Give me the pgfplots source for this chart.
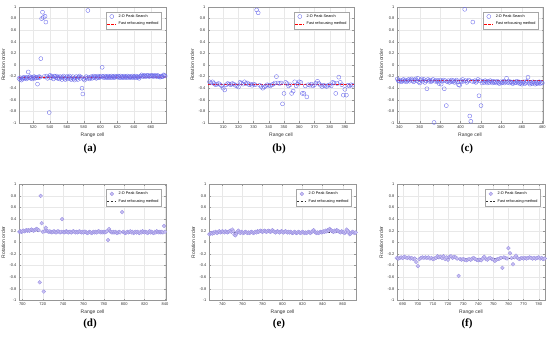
\documentclass[border=0pt]{standalone}
\usepackage{pgfplots}
\pgfplotsset{compat=1.18}
\usepackage{fontspec}
\setmainfont{Liberation Sans}
\newfontfamily\serifb{Liberation Serif}
\definecolor{mk}{RGB}{105,105,235}
\definecolor{mkf}{RGB}{200,192,242}
\definecolor{mkd}{RGB}{150,140,225}
\definecolor{axc}{RGB}{150,150,150}
\definecolor{tkc}{RGB}{50,50,50}
\pgfplotsset{
  panel/.style={
    scale only axis, height=116pt, anchor=south west,
    ymin=-1, ymax=1,
    ytick={-1,-0.8,-0.6,-0.4,-0.2,0,0.2,0.4,0.6,0.8,1},
    yticklabels={-1,-0.8,-0.6,-0.4,-0.2,0,0.2,0.4,0.6,0.8,1},
    /pgf/number format/assume math mode=true,
    tick label style={font=\fontsize{4}{4.5}\selectfont, text=tkc},
    label style={font=\fontsize{5}{6}\selectfont, text=tkc},
    xlabel={Range cell}, ylabel={Rotation order},
    xlabel style={yshift=2.5pt},
    ylabel style={yshift=-2.5pt},
    xticklabel style={yshift=1pt},
    yticklabel style={xshift=1pt},
    axis line style={axc, line width=0.4pt},
    tick align=inside, major tick length=1.5pt,
    tick style={axc, line width=0.3pt},
    grid=major, major grid style={gray!18, line width=0.3pt},
    clip=false,
    legend cell align=left,
    legend style={at={(0.97,0.96)}, anchor=north east, draw=gray!70, fill=white,
      font=\fontsize{3.8}{4.2}\selectfont, inner xsep=1pt, inner ysep=0.6pt,
      row sep=-0.5pt, line width=0.3pt},
    legend image code/.code={\draw[#1] (0pt,0pt) -- (9pt,0pt);},
  },
  pts1/.style={only marks, mark=o, mark size=2pt, mark options={draw=mk, line width=0.35pt},
    legend image code/.code={\draw[mk, line width=0.35pt] (4.5pt,0pt) circle (2pt);}},
  pts2/.style={only marks, mark=*, mark size=1.9pt, mark options={draw=mkd, fill=mkf, line width=0.3pt},
    legend image code/.code={\draw[mkd, fill=mkf, line width=0.3pt] (4.5pt,0pt) circle (1.9pt);}},
  ln1/.style={red, line width=0.9pt, dash pattern=on 2.5pt off 1.5pt, no marks},
  ln2/.style={black!80, line width=0.8pt, dash pattern=on 2pt off 1.6pt, no marks},
}
\begin{document}
\begin{tikzpicture}
\path[use as bounding box] (0,0) rectangle (550pt,337pt);
% (a)
\begin{axis}[panel, at={(19pt,214pt)}, width=147pt, xmin=503, xmax=678, xtick={520,540,...,660}]
\addplot[pts1] coordinates {
(503,-0.23) (504,-0.25) (505,-0.22) (506,-0.26) (507,-0.24) (508,-0.22) (509,-0.21) (510,-0.23) (511,-0.22) (512,-0.24)
(513,-0.21) (514,-0.12) (515,-0.22) (516,-0.20) (517,-0.23) (518,-0.21) (519,-0.24) (520,-0.22) (521,-0.20) (522,-0.23)
(523,-0.21) (524,-0.22) (525,-0.33) (526,-0.22) (527,-0.20) (528,-0.21) (529,0.11) (530,0.80) (531,0.91) (532,0.82)
(533,-0.20) (534,0.84) (535,0.74) (536,-0.19) (537,-0.23) (538,-0.21) (539,-0.82) (540,-0.18) (541,-0.22) (542,-0.19)
(543,-0.21) (544,-0.24) (545,-0.19) (546,-0.20) (547,-0.22) (548,-0.19) (549,-0.23) (550,-0.21) (551,-0.24) (552,-0.20)
(553,-0.22) (554,-0.25) (555,-0.21) (556,-0.19) (557,-0.23) (558,-0.25) (559,-0.22) (560,-0.20) (561,-0.24) (562,-0.21)
(563,-0.19) (564,-0.23) (565,-0.25) (566,-0.22) (567,-0.20) (568,-0.24) (569,-0.26) (570,-0.22) (571,-0.20) (572,-0.23)
(573,-0.25) (574,-0.21) (575,-0.19) (576,-0.23) (577,-0.21) (578,-0.40) (579,-0.50) (580,-0.24) (581,-0.26) (582,-0.22)
(583,-0.20) (584,-0.23) (585,0.94) (586,-0.21) (587,-0.24) (588,-0.22) (589,-0.20) (590,-0.23) (591,-0.21) (592,-0.19)
(593,-0.22) (594,-0.20) (595,-0.23) (596,-0.21) (597,-0.19) (598,-0.22) (599,-0.20) (600,-0.21) (601,-0.19) (602,-0.04)
(603,-0.20) (604,-0.22) (605,-0.19) (606,-0.21) (607,-0.20) (608,-0.22) (609,-0.19) (610,-0.21) (611,-0.20) (612,-0.22)
(613,-0.19) (614,-0.21) (615,-0.20) (616,-0.22) (617,-0.19) (618,-0.21) (619,-0.20) (620,-0.21) (621,-0.19) (622,-0.20)
(623,-0.22) (624,-0.19) (625,-0.21) (626,-0.20) (627,-0.22) (628,-0.19) (629,-0.21) (630,-0.20) (631,-0.22) (632,-0.19)
(633,-0.21) (634,-0.20) (635,-0.22) (636,-0.20) (637,-0.21) (638,-0.19) (639,-0.22) (640,-0.20) (641,-0.21) (642,-0.19)
(643,-0.22) (644,-0.20) (645,-0.21) (646,-0.23) (647,-0.20) (648,-0.19) (649,-0.17) (650,-0.19) (651,-0.20) (652,-0.18)
(653,-0.19) (654,-0.20) (655,-0.18) (656,-0.19) (657,-0.18) (658,-0.20) (659,-0.19) (660,-0.18) (661,-0.19) (662,-0.18)
(663,-0.20) (664,-0.19) (665,-0.18) (666,-0.19) (667,-0.20) (668,-0.18) (669,-0.19) (670,-0.20) (671,-0.21) (672,-0.19)
(673,-0.20) (674,-0.20) (675,-0.17) (676,-0.18) (677,-0.19)};
\addlegendentry{2-D Peak Search}
\addplot[ln1] coordinates {(503,-0.215) (678,-0.21)};
\addlegendentry{Fast refocusing method}
\end{axis}
% (b)
\begin{axis}[panel, at={(208pt,214pt)}, width=146pt, xmin=300, xmax=396, xtick={310,320,...,390}]
\addplot[pts1] coordinates {
(301,-0.29) (302,-0.31) (303,-0.29) (304,-0.32) (305,-0.34) (306,-0.33) (307,-0.32) (308,-0.34) (309,-0.36) (310,-0.40)
(311,-0.43) (312,-0.34) (313,-0.32) (314,-0.33) (315,-0.34) (316,-0.32) (317,-0.33) (318,-0.35) (319,-0.36) (320,-0.38)
(321,-0.30) (322,-0.31) (323,-0.33) (324,-0.29) (325,-0.32) (326,-0.31) (327,-0.34) (328,-0.33) (329,-0.35) (330,-0.33)
(331,-0.34) (332,0.95) (333,0.90) (334,-0.35) (335,-0.37) (336,-0.40) (337,-0.38) (338,-0.36) (339,-0.34) (340,-0.35)
(341,-0.36) (342,-0.34) (343,-0.33) (344,-0.31) (345,-0.20) (346,-0.31) (347,-0.32) (348,-0.31) (349,-0.67) (350,-0.49)
(351,-0.30) (352,-0.32) (353,-0.36) (354,-0.34) (355,-0.49) (356,-0.45) (357,-0.29) (358,-0.36) (359,-0.33) (360,-0.29)
(361,-0.30) (362,-0.49) (363,-0.49) (364,-0.36) (365,-0.55) (366,-0.34) (367,-0.35) (368,-0.33) (369,-0.36) (370,-0.34)
(371,-0.31) (372,-0.28) (373,-0.32) (374,-0.35) (375,-0.37) (376,-0.35) (377,-0.36) (378,-0.37) (379,-0.35) (380,-0.34)
(381,-0.36) (382,-0.30) (383,-0.31) (384,-0.49) (385,-0.32) (386,-0.21) (387,-0.30) (388,-0.34) (389,-0.52) (390,-0.42)
(391,-0.52) (392,-0.35) (393,-0.36) (394,-0.34) (395,-0.35)};
\addlegendentry{2-D Peak Search}
\addplot[ln1] coordinates {(300,-0.33) (396,-0.33)};
\addlegendentry{Fast refocusing method}
\end{axis}
% (c)
\begin{axis}[panel, at={(397pt,214pt)}, width=146pt, xmin=337.7, xmax=480.7, xtick={340,360,...,480}]
\addplot[pts1] coordinates {
(338,-0.24) (339,-0.27) (340,-0.28) (341,-0.26) (342,-0.29) (343,-0.27) (344,-0.25) (345,-0.28) (346,-0.26) (347,-0.29)
(348,-0.27) (349,-0.25) (350,-0.28) (351,-0.26) (352,-0.24) (353,-0.27) (354,-0.29) (355,-0.26) (356,-0.24) (357,-0.27)
(358,-0.23) (359,-0.29) (360,-0.31) (361,-0.26) (362,-0.24) (363,-0.28) (364,-0.25) (365,-0.30) (366,-0.27) (367,-0.41)
(368,-0.25) (369,-0.28) (370,-0.26) (371,-0.29) (372,-0.27) (373,-0.25) (374,-0.99) (375,-0.28) (376,-0.26) (377,-0.29)
(378,-0.27) (379,-0.32) (380,-0.26) (381,-0.33) (382,-0.28) (383,-0.26) (384,-0.41) (385,-0.27) (386,-0.70) (387,-0.29)
(388,-0.27) (389,-0.30) (390,-0.28) (391,-0.26) (392,-0.29) (393,-0.27) (394,-0.30) (395,-0.28) (396,-0.26) (397,-0.29)
(398,-0.34) (399,-0.35) (400,-0.27) (401,-0.29) (402,-0.25) (403,-0.28) (404,0.96) (405,-0.27) (406,-0.30) (407,-0.28)
(408,-0.26) (409,-0.88) (410,-0.97) (411,-0.28) (412,0.74) (413,-0.29) (414,-0.27) (415,-0.30) (416,-0.28) (417,-0.25)
(418,-0.53) (419,-0.27) (420,-0.70) (421,-0.31) (422,-0.28) (423,-0.30) (424,-0.27) (425,-0.29) (426,-0.31) (427,-0.28)
(428,-0.30) (429,-0.27) (430,-0.29) (431,-0.31) (432,-0.28) (433,-0.30) (434,-0.29) (435,-0.31) (436,-0.28) (437,-0.30)
(438,-0.32) (439,-0.29) (440,-0.31) (441,-0.30) (442,-0.28) (443,-0.31) (444,-0.29) (445,-0.23) (446,-0.30) (447,-0.28)
(448,-0.31) (449,-0.29) (450,-0.30) (451,-0.32) (452,-0.29) (453,-0.31) (454,-0.30) (455,-0.28) (456,-0.31) (457,-0.29)
(458,-0.32) (459,-0.30) (460,-0.33) (461,-0.31) (462,-0.29) (463,-0.32) (464,-0.30) (465,-0.28) (466,-0.21) (467,-0.31)
(468,-0.33) (469,-0.30) (470,-0.32) (471,-0.29) (472,-0.31) (473,-0.33) (474,-0.30) (475,-0.32) (476,-0.31) (477,-0.29)
(478,-0.32) (479,-0.30) (480,-0.31)};
\addlegendentry{2-D Peak Search}
\addplot[ln1] coordinates {(337.7,-0.27) (480.7,-0.27)};
\addlegendentry{Fast refocusing method}
\end{axis}
% (d)
\begin{axis}[panel, at={(19pt,36.7pt)}, width=147pt, xmin=696.7, xmax=841, xtick={700,720,...,840}]
\addplot[pts2] coordinates {
(697,0.18) (698,0.19) (699,0.18) (700,0.19) (701,0.20) (702,0.19) (703,0.20) (704,0.21) (705,0.20) (706,0.21)
(707,0.20) (708,0.21) (709,0.22) (710,0.21) (711,0.20) (712,0.21) (713,0.22) (714,0.23) (715,0.22) (716,0.21)
(717,-0.69) (718,0.80) (719,0.33) (720,0.18) (721,-0.85) (722,0.19) (723,0.25) (724,0.20) (725,0.19) (726,0.18)
(727,0.19) (728,0.18) (729,0.17) (730,0.18) (731,0.19) (732,0.18) (733,0.17) (734,0.18) (735,0.19) (736,0.18)
(737,0.17) (738,0.18) (739,0.40) (740,0.18) (741,0.17) (742,0.18) (743,0.19) (744,0.18) (745,0.17) (746,0.18)
(747,0.18) (748,0.17) (749,0.18) (750,0.19) (751,0.18) (752,0.17) (753,0.18) (754,0.17) (755,0.18) (756,0.19)
(757,0.18) (758,0.17) (759,0.18) (760,0.17) (761,0.18) (762,0.18) (763,0.17) (764,0.16) (765,0.17) (766,0.18)
(767,0.17) (768,0.16) (769,0.17) (770,0.18) (771,0.17) (772,0.18) (773,0.17) (774,0.18) (775,0.19) (776,0.18)
(777,0.17) (778,0.18) (779,0.17) (780,0.18) (781,0.17) (782,0.18) (783,0.19) (784,0.04) (785,0.23) (786,0.19)
(787,0.18) (788,0.17) (789,0.18) (790,0.17) (791,0.18) (792,0.17) (793,0.16) (794,0.17) (795,0.18) (796,0.17)
(797,0.72) (798,0.52) (799,0.18) (800,0.17) (801,0.16) (802,0.17) (803,0.18) (804,0.17) (805,0.18) (806,0.19)
(807,0.17) (808,0.18) (809,0.16) (810,0.17) (811,0.18) (812,0.17) (813,0.18) (814,0.17) (815,0.16) (816,0.18)
(817,0.17) (818,0.19) (819,0.18) (820,0.17) (821,0.18) (822,0.17) (823,0.16) (824,0.18) (825,0.19) (826,0.17)
(827,0.18) (828,0.17) (829,0.16) (830,0.18) (831,0.17) (832,0.19) (833,0.18) (834,0.17) (835,0.18) (836,0.17)
(837,0.18) (838,0.17) (839,0.28) (840,0.18)};
\addlegendentry{2-D Peak Search}
\addplot[ln2] coordinates {(696.7,0.18) (841,0.18)};
\addlegendentry{Fast refocusing method}
\end{axis}
% (e)
\begin{axis}[panel, at={(209pt,36.7pt)}, width=147pt, xmin=726.7, xmax=873.3, xtick={740,760,...,860}]
\addplot[pts2] coordinates {
(727,0.14) (728,0.15) (729,0.16) (730,0.15) (731,0.17) (732,0.16) (733,0.18) (734,0.17) (735,0.16) (736,0.18)
(737,0.19) (738,0.17) (739,0.18) (740,0.19) (741,0.18) (742,0.17) (743,0.19) (744,0.18) (745,0.17) (746,0.18)
(747,0.19) (748,0.20) (749,0.18) (750,0.22) (751,0.19) (752,0.13) (753,0.12) (754,0.15) (755,0.18) (756,0.20)
(757,0.17) (758,0.16) (759,0.18) (760,0.17) (761,0.16) (762,0.17) (763,0.18) (764,0.17) (765,0.16) (766,0.17)
(767,0.16) (768,0.17) (769,0.18) (770,0.17) (771,0.16) (772,0.17) (773,0.18) (774,0.17) (775,0.19) (776,0.18)
(777,0.19) (778,0.20) (779,0.19) (780,0.18) (781,0.19) (782,0.20) (783,0.19) (784,0.18) (785,0.19) (786,0.20)
(787,0.19) (788,0.18) (789,0.19) (790,0.21) (791,0.19) (792,0.18) (793,0.17) (794,0.18) (795,0.19) (796,0.18)
(797,0.17) (798,0.18) (799,0.19) (800,0.18) (801,0.17) (802,0.18) (803,0.19) (804,0.18) (805,0.17) (806,0.18)
(807,0.17) (808,0.18) (809,0.17) (810,0.16) (811,0.17) (812,0.18) (813,0.17) (814,0.16) (815,0.17) (816,0.18)
(817,0.17) (818,0.16) (819,0.17) (820,0.18) (821,0.17) (822,0.16) (823,0.17) (824,0.16) (825,0.17) (826,0.18)
(827,0.17) (828,0.16) (829,0.18) (830,0.19) (831,0.21) (832,0.18) (833,0.17) (834,0.16) (835,0.17) (836,0.16)
(837,0.17) (838,0.18) (839,0.17) (840,0.18) (841,0.19) (842,0.18) (843,0.20) (844,0.19) (845,0.21) (846,0.20)
(847,0.23) (848,0.21) (849,0.20) (850,0.19) (851,0.18) (852,0.20) (853,0.19) (854,0.21) (855,0.20) (856,0.19)
(857,0.18) (858,0.17) (859,0.19) (860,0.18) (861,0.17) (862,0.16) (863,0.18) (864,0.22) (865,0.20) (866,0.17)
(867,0.14) (868,0.15) (869,0.17) (870,0.18) (871,0.17) (872,0.16) (873,0.17)};
\addlegendentry{2-D Peak Search}
\addplot[ln2] coordinates {(726.7,0.17) (873.3,0.17)};
\addlegendentry{Fast refocusing method}
\end{axis}
% (f)
\begin{axis}[panel, at={(397pt,36.7pt)}, width=148pt, xmin=686.2, xmax=784.2, xtick={690,700,...,780}]
\addplot[pts2] coordinates {
(686,-0.27) (687,-0.28) (688,-0.27) (689,-0.26) (690,-0.27) (691,-0.25) (692,-0.26) (693,-0.27) (694,-0.26) (695,-0.28)
(696,-0.27) (697,-0.29) (698,-0.28) (699,-0.34) (700,-0.41) (701,-0.29) (702,-0.27) (703,-0.26) (704,-0.27) (705,-0.26)
(706,-0.27) (707,-0.26) (708,-0.28) (709,-0.27) (710,-0.29) (711,-0.28) (712,-0.27) (713,-0.24) (714,-0.26) (715,-0.25)
(716,-0.27) (717,-0.24) (718,-0.29) (719,-0.26) (720,-0.30) (721,-0.25) (722,-0.24) (723,-0.27) (724,-0.25) (725,-0.26)
(726,-0.28) (727,-0.58) (728,-0.29) (729,-0.30) (730,-0.29) (731,-0.30) (732,-0.31) (733,-0.30) (734,-0.29) (735,-0.30)
(736,-0.28) (737,-0.27) (738,-0.29) (739,-0.30) (740,-0.31) (741,-0.30) (742,-0.31) (743,-0.28) (744,-0.25) (745,-0.29)
(746,-0.30) (747,-0.28) (748,-0.27) (749,-0.29) (750,-0.30) (751,-0.32) (752,-0.30) (753,-0.29) (754,-0.28) (755,-0.27)
(756,-0.44) (757,-0.26) (758,-0.27) (759,-0.28) (760,-0.10) (761,-0.19) (762,-0.27) (763,-0.38) (764,-0.26) (765,-0.23)
(766,-0.27) (767,-0.29) (768,-0.28) (769,-0.27) (770,-0.28) (771,-0.27) (772,-0.28) (773,-0.27) (774,-0.26) (775,-0.27)
(776,-0.28) (777,-0.27) (778,-0.28) (779,-0.27) (780,-0.26) (781,-0.28) (782,-0.27) (783,-0.29) (784,-0.28)};
\addlegendentry{2-D Peak Search}
\addplot[ln2] coordinates {(686.2,-0.27) (784.2,-0.27)};
\addlegendentry{Fast refocusing method}
\end{axis}
% sub-figure labels
\node[font=\serifb\bfseries\fontsize{11}{12}\selectfont] at (90pt,188pt) {(a)};
\node[font=\serifb\bfseries\fontsize{11}{12}\selectfont] at (279pt,188pt) {(b)};
\node[font=\serifb\bfseries\fontsize{11}{12}\selectfont] at (467pt,188pt) {(c)};
\node[font=\serifb\bfseries\fontsize{11}{12}\selectfont] at (90pt,13pt) {(d)};
\node[font=\serifb\bfseries\fontsize{11}{12}\selectfont] at (279pt,13pt) {(e)};
\node[font=\serifb\bfseries\fontsize{11}{12}\selectfont] at (467pt,13pt) {(f)};
\end{tikzpicture}
\end{document}
